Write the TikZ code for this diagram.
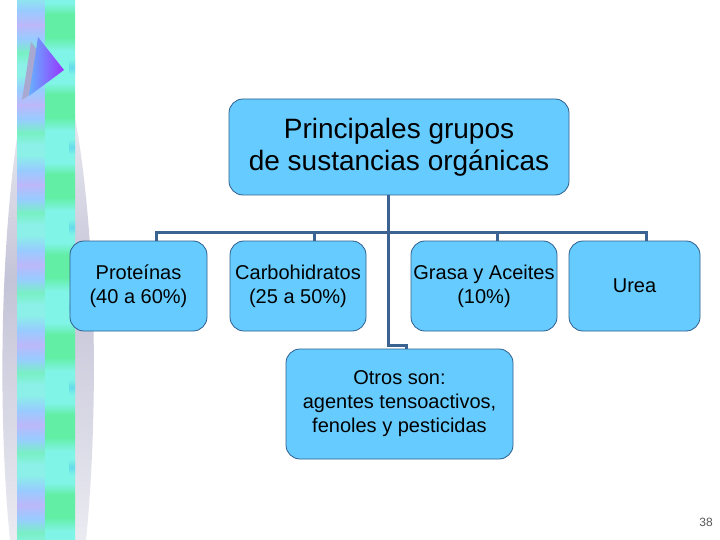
\documentclass[tikz,border=0pt]{standalone}
\usepackage{fontspec}
\setmainfont{Liberation Sans}
\definecolor{boxfill}{HTML}{66CCFF}
\definecolor{boxline}{HTML}{2F5E8E}
\definecolor{connc}{HTML}{3B6391}
\definecolor{AQ}{HTML}{8CF0E8}
\definecolor{BL}{HTML}{98CCFF}
\definecolor{LV}{HTML}{BCB8FA}
\definecolor{AG}{HTML}{78F0C4}
\definecolor{RA}{HTML}{80F4E6}
\definecolor{GR}{HTML}{62EEA4}
\definecolor{NT}{HTML}{66DCEA}
\definecolor{SPG}{HTML}{C4C4D8}
\definecolor{SHD}{HTML}{A8A8D0}
\definecolor{TRL}{HTML}{66B0FF}
\definecolor{TRR}{HTML}{9933FF}
\tikzset{
  orgbox/.style={draw=boxline, line width=0.8pt, fill=boxfill, rounded corners=14pt,
    align=center, inner sep=0pt, font=\fontsize{20}{24}\selectfont},
  conn/.style={draw=connc, line width=3pt},
}
\begin{document}
\begin{tikzpicture}[x=1pt,y=-1pt]
\useasboundingbox (0,0) rectangle (720,540);
\fill[white] (0,0) rectangle (720,540);
% spindle background
\shade[top color=white, bottom color=SPG!35, middle color=SPG]
  (46,20) .. controls (2,120) and (-6,380) .. (10,540) -- (86,540)
  .. controls (102,380) and (96,120) .. (46,20) -- cycle;
% strip
\begin{scope}
\clip (17,0) rectangle (75,540);
\foreach \k in {0,...,7}{
  \pgfmathsetmacro{\yo}{-5+80*\k}
  \foreach \a/\b/\ca/\cb in {0/15/AQ/BL, 15/30/BL/LV, 30/44/LV/BL, 44/58/BL/AG, 58/70/AG/AQ, 70/80/AQ/AQ}{
    \shade[top color=\ca, bottom color=\cb] (17,\yo+\a) rectangle (45.5,\yo+\b);
  }
  \foreach \a/\b/\ca/\cb in {0/8/RA/RA, 8/20/RA/GR, 20/42/GR/GR, 42/56/GR/RA, 56/80/RA/RA}{
    \shade[top color=\ca, bottom color=\cb] (45,\yo+\a) rectangle (75,\yo+\b);
  }
  \shade[top color=RA, bottom color=RA, middle color=NT] (69,\yo+64) rectangle (75,\yo+80);
}
\end{scope}
% play triangle
\fill[SHD] (31,42) -- (57,75) -- (22,100) -- cycle;
\shade[left color=TRL, right color=TRR] (38,37) -- (64,70) -- (29,96) -- cycle;
% boxes
\node[orgbox, minimum width=340pt, minimum height=96pt, font=\fontsize{28}{32}\selectfont]
  (top) at (399,147) {Principales grupos\\de sustancias orgánicas};
\node[orgbox, minimum width=137pt, minimum height=90pt] (prot) at (138.5,286) {Proteínas\\(40 a 60\%)};
\node[orgbox, minimum width=136pt, minimum height=90pt] (carb) at (298,286) {Carbohidratos\\(25 a 50\%)};
\node[orgbox, minimum width=146pt, minimum height=90pt] (gras) at (484,286) {Grasa y Aceites\\(10\%)};
\node[orgbox, minimum width=131pt, minimum height=90pt] (urea) at (634.5,286) {Urea};
\node[orgbox, minimum width=227pt, minimum height=110pt] (otro) at (399.5,404)
  {Otros son:\\agentes tensoactivos,\\fenoles y pesticidas};
% connectors
\draw[conn] ([xshift=-11pt]top.south) -- ++(0,150) -| ([xshift=6.5pt]otro.north);
\draw[conn] ([xshift=17.5pt]prot.north) -- ++(0,-8) -| ([xshift=11.5pt]urea.north);
\draw[conn] ([xshift=16pt]carb.north) -- ++(0,-8);
\draw[conn] ([xshift=13pt]gras.north) -- ++(0,-8);
% page number
\node[font=\fontsize{12}{13}\selectfont, text=black!65] (pg) at (706,522) {38};
\end{tikzpicture}
\end{document}
